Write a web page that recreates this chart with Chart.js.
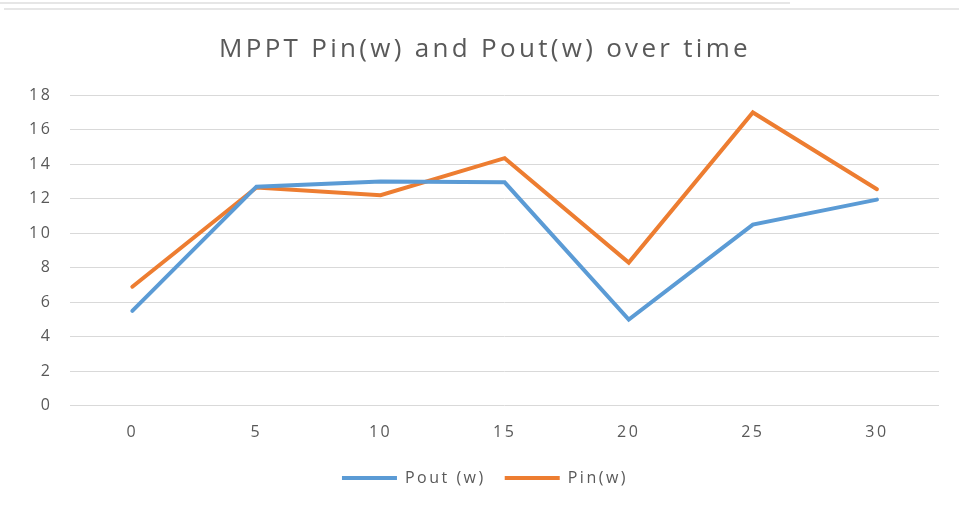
<!DOCTYPE html>
<html>
<head>
    <title>MPPT Pin(w) and Pout(w) over time</title>
    <script src="https://cdn.jsdelivr.net/npm/chart.js"></script>
    <style>
        body { margin: 0; background: #fff; }
        #wrap { position: relative; width: 959px; height: 506px; }
        .edge { position: absolute; height: 2px; background: #e6e6e6; }
    </style>
</head>
<body>
<div id="wrap">
    <div class="edge" style="left:0; top:2px; width:790px;"></div>
    <div class="edge" style="left:4px; top:8px; width:955px;"></div>
    <canvas id="mpptChart" width="959" height="506"></canvas>
</div>
<script>
    const timeLabels = ['0', '5', '10', '15', '20', '25', '30'];
    const poutValues = [5.5, 12.7, 13.0, 12.95, 5.0, 10.5, 11.95];
    const pinValues = [6.9, 12.65, 12.2, 14.35, 8.3, 17.0, 12.55];

    const grey = '#595959';
    const fontFamily = '"Open Sans", "Liberation Sans", sans-serif';

    // the original text is drawn wide, so space the letters out a bit
    const wideText = {
        id: 'wideText',
        beforeLayout(chart) { chart.ctx.letterSpacing = '2.5px'; },
        beforeDraw(chart) {
            chart.ctx.letterSpacing = '2.5px';
            const title = chart.titleBlock;
            if (title && !title._wide) {
                const draw = title.draw.bind(title);
                title.draw = function() {
                    chart.ctx.letterSpacing = '3.3px';
                    draw();
                    chart.ctx.letterSpacing = '2.5px';
                };
                title._wide = true;
            }
        }
    };

    const ctx = document.getElementById('mpptChart').getContext('2d');
    new Chart(ctx, {
        type: 'line',
        data: {
            labels: timeLabels,
            datasets: [
                {
                    label: 'Pout (w)',
                    data: poutValues,
                    borderColor: '#5b9bd5',
                    backgroundColor: '#5b9bd5',
                    borderWidth: 4,
                    pointRadius: 0,
                    tension: 0,
                    borderCapStyle: 'round'
                },
                {
                    label: 'Pin(w)',
                    data: pinValues,
                    borderColor: '#ed7d31',
                    backgroundColor: '#ed7d31',
                    borderWidth: 4,
                    pointRadius: 0,
                    tension: 0,
                    borderCapStyle: 'round'
                }
            ]
        },
        plugins: [wideText],
        options: {
            responsive: false,
            animation: false,
            layout: { padding: { left: 11, right: 0, top: 20, bottom: 10 } },
            plugins: {
                title: {
                    display: true,
                    text: 'MPPT Pin(w) and Pout(w) over time',
                    color: grey,
                    font: { family: fontFamily, size: 26, weight: 'normal' },
                    padding: { top: 14, bottom: 30 }
                },
                legend: {
                    position: 'bottom',
                    labels: {
                        color: grey,
                        font: { family: fontFamily, size: 16 },
                        boxWidth: 55,
                        boxHeight: 4,
                        padding: 19,
                        generateLabels: function(chart) {
                            const items = Chart.defaults.plugins.legend.labels.generateLabels(chart);
                            items.forEach(item => { item.lineWidth = 0; });
                            return items;
                        }
                    }
                },
                tooltip: { enabled: false }
            },
            scales: {
                x: {
                    offset: true,
                    grid: { display: false },
                    border: { display: false },
                    ticks: { color: grey, font: { family: fontFamily, size: 16 }, padding: 9 }
                },
                y: {
                    min: 0,
                    max: 18,
                    ticks: { stepSize: 2, color: grey, font: { family: fontFamily, size: 16 }, padding: 18 },
                    grid: { color: '#d9d9d9', lineWidth: 1, drawTicks: false },
                    border: { display: false }
                },
                // empty right-hand axis: only keeps a margin so title and legend sit a little right of the plot centre
                spacer: {
                    type: 'linear',
                    position: 'right',
                    min: 0,
                    max: 18,
                    grid: { display: false },
                    border: { display: false },
                    ticks: { display: false },
                    afterFit: function(scale) { scale.width = 20; }
                }
            }
        }
    });
</script>
</body>
</html>
